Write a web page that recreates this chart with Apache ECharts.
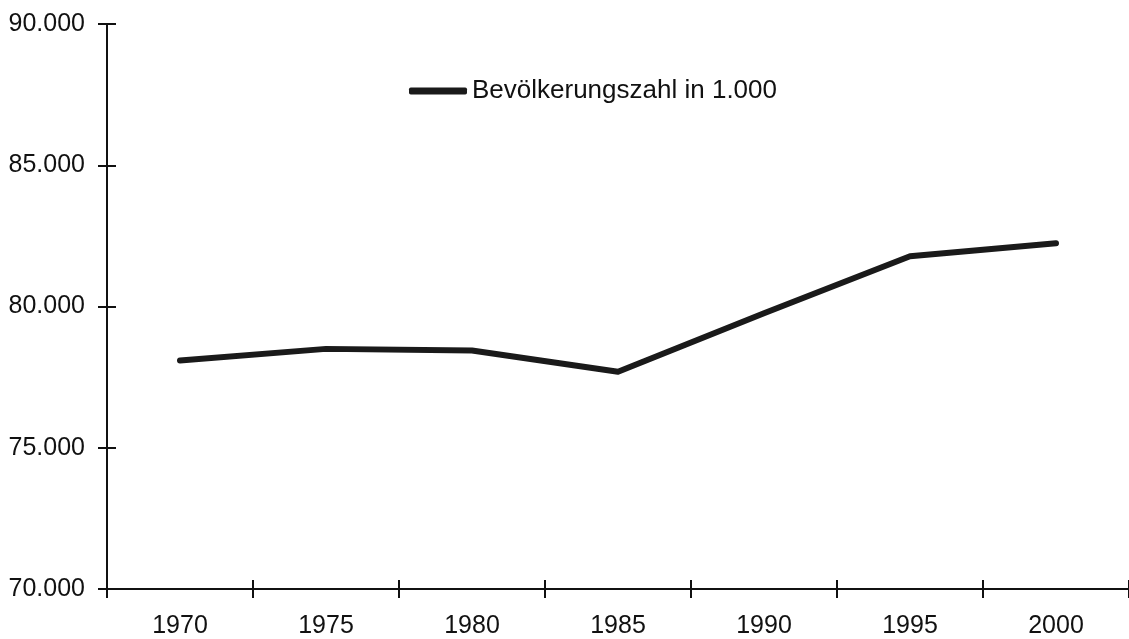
<!DOCTYPE html>
<html>
<head>
<meta http-equiv="Content-Type" content="text/html; charset=UTF-8">
<title>Bevölkerungszahl</title>
<script src="https://cdn.jsdelivr.net/npm/echarts@6/dist/echarts.min.js"></script>
</head>
<body style="margin:0;background:#fff;">
<div id="chart" style="width: 1129px; height: 639px;"></div>
<script type="text/javascript">
    // data
    var years = ['1970', '1975', '1980', '1985', '1990', '1995', '2000'];
    var population = [78090, 78500, 78440, 77690, 79760, 81780, 82240];
    var seriesName = 'Bevölkerungszahl in 1.000';

    function dotted(v) {
        return String(v).replace(/\B(?=(\d{3})+(?!\d))/g, '.');
    }

    var font = 'Liberation Sans, Arial, sans-serif';
    var axisLine = { show: true, lineStyle: { color: '#111', width: 2 } };

    var myChart = echarts.init(document.getElementById('chart'));
    myChart.setOption({
        animation: false,
        backgroundColor: '#fff',
        grid: { left: 107, right: 0, top: 24, bottom: 48 },
        legend: {
            data: [seriesName],
            left: 404,
            top: 73,
            icon: 'roundRect',
            itemWidth: 58,
            itemHeight: 7,
            itemGap: 5,
            textStyle: { fontFamily: font, fontSize: 26, color: '#111' }
        },
        xAxis: [{
            type: 'category',
            data: years,
            boundaryGap: true,
            axisLine: axisLine,
            axisTick: { show: true, length: 9, lineStyle: { color: '#111', width: 2 } },
            axisLabel: { margin: 25, fontFamily: font, fontSize: 25, color: '#111' },
            splitLine: { show: false }
        }, {
            type: 'category',
            data: years,
            position: 'bottom',
            boundaryGap: true,
            axisLine: axisLine,
            axisTick: { show: true, inside: true, length: 9, lineStyle: { color: '#111', width: 2 } },
            axisLabel: { show: false },
            splitLine: { show: false }
        }],
        yAxis: [{
            type: 'value',
            min: 70000,
            max: 90000,
            interval: 5000,
            axisLine: axisLine,
            axisTick: { show: true, length: 9, lineStyle: { color: '#111', width: 2 } },
            axisLabel: {
                margin: 22, fontFamily: font, fontSize: 25, color: '#111',
                formatter: dotted
            },
            splitLine: { show: false }
        }, {
            type: 'value',
            position: 'left',
            min: 70000,
            max: 90000,
            interval: 5000,
            axisLine: axisLine,
            axisTick: { show: true, inside: true, length: 9, lineStyle: { color: '#111', width: 2 } },
            axisLabel: { show: false },
            splitLine: { show: false }
        }],
        series: [{
            name: seriesName,
            type: 'line',
            data: population,
            showSymbol: false,
            symbol: 'none',
            itemStyle: { color: '#1a1a1a' },
            lineStyle: { color: '#1a1a1a', width: 6, cap: 'round', join: 'round' }
        }]
    });
</script>
</body>
</html>
